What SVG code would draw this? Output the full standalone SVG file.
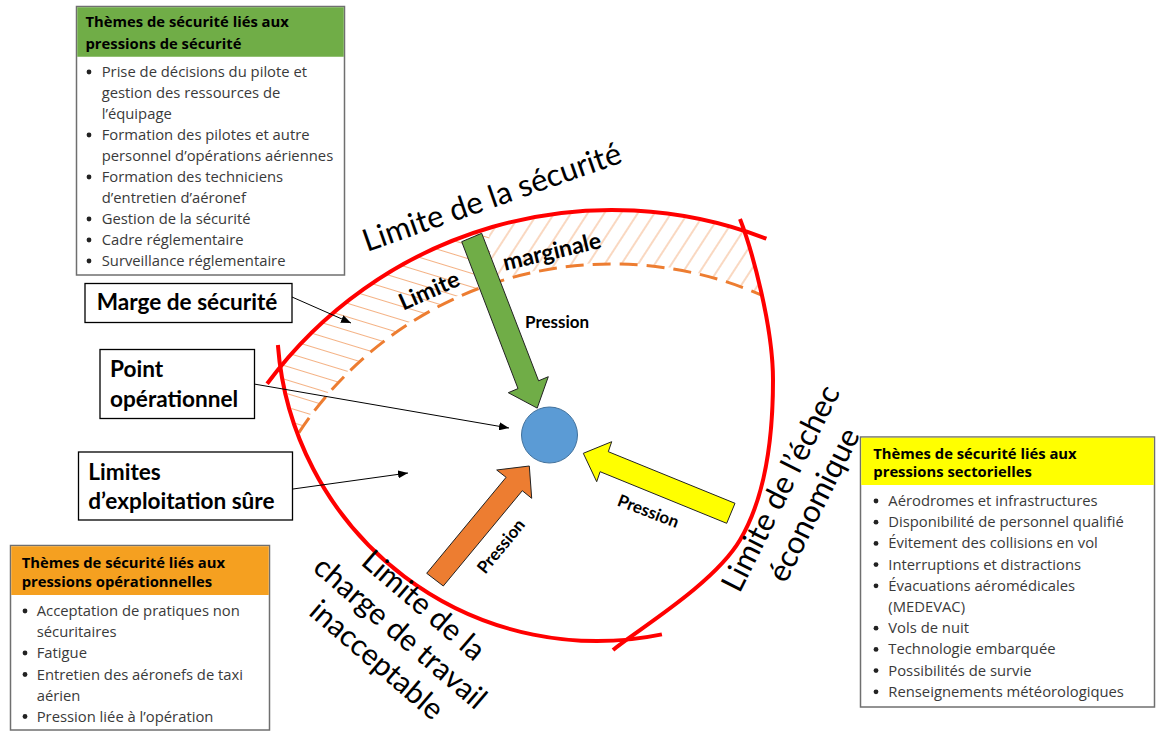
<svg xmlns="http://www.w3.org/2000/svg" width="1156" height="731" viewBox="0 0 1156 731">
<style>
.arc{fill:none;stroke:#ff0000;stroke-width:4}
.dash{fill:none;stroke:#ed7d31;stroke-width:3;stroke-dasharray:18 9}
.box{fill:#fff;stroke:#6f6f6f;stroke-width:1.5}
.lbox{fill:#fff;stroke:#000;stroke-width:1.3}
.hdr{font-family:"Open Sans","Noto Sans",sans-serif;font-weight:700;font-size:14.8px;fill:#000}
.li{font-family:"Open Sans","Noto Sans",sans-serif;font-size:14.8px;fill:#3a3a3a}
.lbl{font-family:Lato,"Open Sans",sans-serif;font-weight:700;font-size:22.6px;fill:#000}
.big{font-family:Lato,"Open Sans",sans-serif;font-size:31px;fill:#000}
.big2{font-family:Lato,"Open Sans",sans-serif;font-size:30px;fill:#000}
.mb{font-family:Lato,"Open Sans",sans-serif;font-weight:700;font-size:23px;fill:#000}
.pr{font-family:Lato,"Open Sans",sans-serif;font-weight:700;font-size:17px;fill:#000}
.conn{stroke:#000;stroke-width:1;fill:none;marker-end:url(#ah)}
.parrow{stroke:#222;stroke-width:1;stroke-linejoin:miter}
.bul{fill:#222}
</style>
<defs>
<marker id="ah" markerUnits="userSpaceOnUse" markerWidth="10" markerHeight="8" refX="10" refY="4" orient="auto" viewBox="0 0 10 8">
<path d="M0,0 L10,4 L0,8 Z" fill="#000"/>
</marker>
<pattern id="hatchL" patternUnits="userSpaceOnUse" width="40" height="13" patternTransform="rotate(17)">
<line x1="0" y1="6.5" x2="40" y2="6.5" stroke="#f4b183" stroke-width="1"/>
</pattern>
<pattern id="hatchR" patternUnits="userSpaceOnUse" width="40" height="14" patternTransform="rotate(-57)">
<line x1="0" y1="7" x2="40" y2="7" stroke="#f4b183" stroke-width="1"/>
</pattern>
<clipPath id="clipL"><path d="M0,0 H471 L494,300 V731 H0 Z"/></clipPath>
<clipPath id="clipR"><path d="M471,0 H1156 V731 H494 L494,300 Z"/></clipPath>
</defs>

<g id="hatch">
<g clip-path="url(#clipL)"><path d="M280,367 A429,429 0 0 1 745,233 L763,295 A375,375 0 0 0 298,432 Z" fill="url(#hatchL)"/></g>
<g clip-path="url(#clipR)"><path d="M280,367 A429,429 0 0 1 745,233 L763,295 A375,375 0 0 0 298,432 Z" fill="url(#hatchR)"/></g>
</g>

<g id="boundaries">
<path class="dash" d="M298.9,432.6 A375,375 0 0 1 762.8,295.6"/>
<path class="arc" d="M267.1,383.8 A429,429 0 0 1 766.4,238.7"/>
<path class="arc" d="M277.9,345 A320,320 0 0 0 661.9,634.4"/>
<path class="arc" d="M740,219 C752,250 773,326.5 773,380 C773,433.5 766.7,495 740,540 C713.3,585 634.2,631.7 613,650"/>
</g>

<g id="boundary-labels">
<text class="big" transform="translate(367,252) rotate(-19.3)">Limite de la sécurité</text>
<text class="big" text-anchor="middle" transform="translate(790,493) rotate(-63.4)"><tspan x="0" y="0">Limite de l’échec</tspan><tspan x="0" y="37">économique</tspan></text>
<text class="big2" text-anchor="middle" transform="translate(417,613) rotate(40.6)"><tspan x="0" y="0">Limite de la</tspan><tspan x="0" y="36">charge de travail</tspan><tspan x="0" y="72">inacceptable</tspan></text>
<text class="mb" transform="translate(403.3,310.7) rotate(-24)">Limite</text>
<text class="mb" transform="translate(505,270.7) rotate(-13.3)">marginale</text>
</g>

<g id="point">
<circle cx="549.5" cy="435" r="28" fill="#5b9bd5" stroke="#41719c" stroke-width="1"/>
</g>

<g id="pressure-arrows">
<polygon class="parrow" fill="#70ad47" points="461.7,241.7 481.7,233.3 538.6,380.8 548.3,376.7 537.2,408.1 508.3,392.7 518,388.6"/>
<polygon class="parrow" fill="#ed7d31" points="426.7,573.3 506.1,477.3 496.7,470 529.3,466 531.7,498.3 522.3,490.7 443.3,586"/>
<polygon class="parrow" fill="#ffff00" points="735,503.3 608.3,451.7 611.7,441.7 583.3,453.3 596.7,481.7 600.1,471.7 726.7,523.3"/>
<text class="pr" x="525" y="328">Pression</text>
<text class="pr" text-anchor="middle" transform="translate(505.6,549.9) rotate(-50.7)">Pression</text>
<text class="pr" text-anchor="middle" transform="translate(646.2,516.7) rotate(21)">Pression</text>
</g>

<g id="connectors">
<line class="conn" x1="292" y1="297" x2="351" y2="323"/>
<line class="conn" x1="254" y1="384" x2="509" y2="428"/>
<line class="conn" x1="293" y1="489" x2="408" y2="473"/>
</g>

<g id="label-marge">
<rect class="lbox" x="85" y="283.5" width="207" height="39"/>
<text class="lbl" x="96.7" y="309.5">Marge de sécurité</text>
</g>
<g id="label-point">
<rect class="lbox" x="100" y="349.5" width="154.5" height="69"/>
<text class="lbl" x="110" y="377">Point</text>
<text class="lbl" x="110" y="407">opérationnel</text>
</g>
<g id="label-limites">
<rect class="lbox" x="78.5" y="452" width="214" height="68"/>
<text class="lbl" x="88.3" y="480">Limites</text>
<text class="lbl" x="88.3" y="508.5">d’exploitation sûre</text>
</g>

<g id="box-securite">
<rect class="box" x="76.5" y="6.5" width="268" height="268.5"/>
<rect x="77.25" y="7.25" width="266.5" height="49.5" fill="#70ad47"/>
<text class="hdr" x="85.5" y="27">Thèmes de sécurité liés aux</text>
<text class="hdr" x="85.5" y="48.5">pressions de sécurité</text>
<circle class="bul" cx="89" cy="72" r="2.4"/>
<circle class="bul" cx="89" cy="135" r="2.4"/>
<circle class="bul" cx="89" cy="177" r="2.4"/>
<circle class="bul" cx="89" cy="219" r="2.4"/>
<circle class="bul" cx="89" cy="240" r="2.4"/>
<circle class="bul" cx="89" cy="261" r="2.4"/>
<text class="li" x="101.7" y="77">Prise de décisions du pilote et</text>
<text class="li" x="101.7" y="98">gestion des ressources de</text>
<text class="li" x="101.7" y="119">l’équipage</text>
<text class="li" x="101.7" y="140">Formation des pilotes et autre</text>
<text class="li" x="101.7" y="161">personnel d’opérations aériennes</text>
<text class="li" x="101.7" y="182">Formation des techniciens</text>
<text class="li" x="101.7" y="203">d’entretien d’aéronef</text>
<text class="li" x="101.7" y="224">Gestion de la sécurité</text>
<text class="li" x="101.7" y="245">Cadre réglementaire</text>
<text class="li" x="101.7" y="266">Surveillance réglementaire</text>
</g>

<g id="box-operationnelles">
<rect class="box" x="10.5" y="545.5" width="259" height="184.5"/>
<rect x="11.25" y="546.25" width="257.5" height="48.75" fill="#f5a020"/>
<text class="hdr" x="21.7" y="568">Thèmes de sécurité liés aux</text>
<text class="hdr" x="21.7" y="587">pressions opérationnelles</text>
<circle class="bul" cx="25" cy="611" r="2.4"/>
<circle class="bul" cx="25" cy="653" r="2.4"/>
<circle class="bul" cx="25" cy="674.5" r="2.4"/>
<circle class="bul" cx="25" cy="716.5" r="2.4"/>
<text class="li" x="36.7" y="616">Acceptation de pratiques non</text>
<text class="li" x="36.7" y="637">sécuritaires</text>
<text class="li" x="36.7" y="658">Fatigue</text>
<text class="li" x="36.7" y="679.5">Entretien des aéronefs de taxi</text>
<text class="li" x="36.7" y="700.5">aérien</text>
<text class="li" x="36.7" y="721.5">Pression liée à l’opération</text>
</g>

<g id="box-sectorielles">
<rect class="box" x="860.5" y="437" width="294" height="270"/>
<rect x="861.25" y="437.75" width="292.5" height="47.25" fill="#ffff00"/>
<text class="hdr" x="873.3" y="458.5">Thèmes de sécurité liés aux</text>
<text class="hdr" x="873.3" y="477">pressions sectorielles</text>
<circle class="bul" cx="876" cy="501" r="2.4"/>
<circle class="bul" cx="876" cy="522.2" r="2.4"/>
<circle class="bul" cx="876" cy="543.4" r="2.4"/>
<circle class="bul" cx="876" cy="564.6" r="2.4"/>
<circle class="bul" cx="876" cy="585.8" r="2.4"/>
<circle class="bul" cx="876" cy="628.2" r="2.4"/>
<circle class="bul" cx="876" cy="649.4" r="2.4"/>
<circle class="bul" cx="876" cy="670.6" r="2.4"/>
<circle class="bul" cx="876" cy="691.8" r="2.4"/>
<text class="li" x="888.3" y="506">Aérodromes et infrastructures</text>
<text class="li" x="888.3" y="527.2">Disponibilité de personnel qualifié</text>
<text class="li" x="888.3" y="548.4">Évitement des collisions en vol</text>
<text class="li" x="888.3" y="569.6">Interruptions et distractions</text>
<text class="li" x="888.3" y="590.8">Évacuations aéromédicales</text>
<text class="li" x="888.3" y="612">(MEDEVAC)</text>
<text class="li" x="888.3" y="633.2">Vols de nuit</text>
<text class="li" x="888.3" y="654.4">Technologie embarquée</text>
<text class="li" x="888.3" y="675.6">Possibilités de survie</text>
<text class="li" x="888.3" y="696.8">Renseignements météorologiques</text>
</g>
</svg>
